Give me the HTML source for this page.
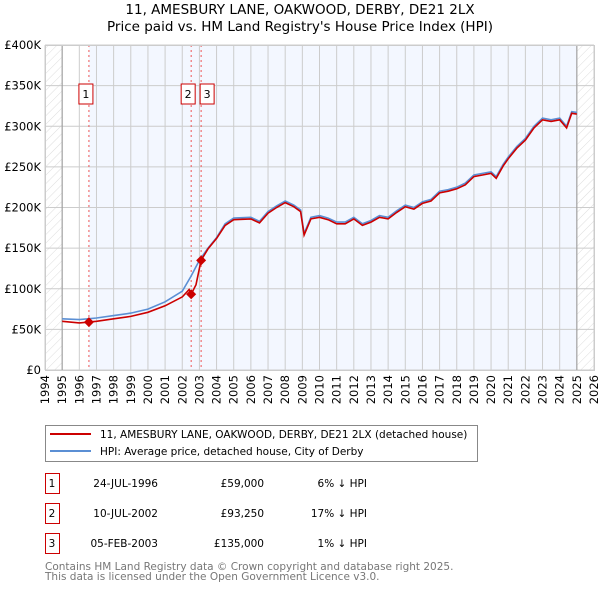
<!DOCTYPE html>
<html><head><meta charset="utf-8"><style>
body{margin:0;background:#fff;font-family:"DejaVu Sans","Liberation Sans",sans-serif;}
svg text{font-family:"DejaVu Sans","Liberation Sans",sans-serif;}
</style></head><body>
<svg id="c" width="600" height="590" xmlns="http://www.w3.org/2000/svg">
<defs><pattern id="hatch" width="6" height="6" patternUnits="userSpaceOnUse" patternTransform="rotate(45)"><line x1="0" y1="0" x2="0" y2="6" stroke="#ddd" stroke-width="1"/></pattern></defs>
<text x="300" y="14" text-anchor="middle" font-size="13.5">11, AMESBURY LANE, OAKWOOD, DERBY, DE21 2LX</text>
<text x="300" y="31" text-anchor="middle" font-size="13.5">Price paid vs. HM Land Registry's House Price Index (HPI)</text>
<g id="plot"></g>
<g>
<rect x="45.5" y="425.5" width="432" height="36" fill="#fff" stroke="#888"/>
<line x1="50" y1="434" x2="91" y2="434" stroke="#cc0000" stroke-width="2"/>
<text x="100" y="438" font-size="10.5">11, AMESBURY LANE, OAKWOOD, DERBY, DE21 2LX (detached house)</text>
<line x1="50" y1="451" x2="91" y2="451" stroke="#5b8fd4" stroke-width="2"/>
<text x="100" y="455" font-size="10.5">HPI: Average price, detached house, City of Derby</text>
</g>
<g id="table" font-size="10.5"></g>
<text x="45" y="570" font-size="10.5" fill="#777">Contains HM Land Registry data © Crown copyright and database right 2025.</text>
<text x="45" y="580" font-size="10.5" fill="#777">This data is licensed under the Open Government Licence v3.0.</text>
</svg>
<script>
const years=[1995,1996,1996.5,1997,1998,1999,2000,2001,2002,2002.5,2003,2003.5,2004,2004.5,2005,2006,2006.5,2007,2007.5,2008,2008.5,2008.9,2009.1,2009.5,2010,2010.5,2011,2011.5,2012,2012.5,2013,2013.5,2014,2014.5,2015,2015.5,2016,2016.5,2017,2017.5,2018,2018.5,2019,2019.5,2020,2020.3,2020.7,2021,2021.5,2022,2022.5,2023,2023.5,2024,2024.4,2024.7,2025];
const hpi=[63,62,63,64,67,70,75,84,97,115,135,150,163,180,187,188,183,195,202,208,203,197,168,188,190,187,182,182,188,180,184,190,188,196,203,200,207,210,220,222,225,230,240,242,244,238,253,262,275,285,300,310,308,310,300,318,317];
const redYears=[1995,1996,1996.56,1997,1998,1999,2000,2001,2002,2002.4,2002.52,2002.8,2003.1,2003.5,2004,2004.5,2005,2006,2006.5,2007,2007.5,2008,2008.5,2008.9,2009.1,2009.5,2010,2010.5,2011,2011.5,2012,2012.5,2013,2013.5,2014,2014.5,2015,2015.5,2016,2016.5,2017,2017.5,2018,2018.5,2019,2019.5,2020,2020.3,2020.7,2021,2021.5,2022,2022.5,2023,2023.5,2024,2024.4,2024.7,2025];
const red=[60,58,59,60,63,66,71,79,90,99,93.25,105,135,149,162,178,185,186,181,193,200,206,201,195,166,186,188,185,180,180,186,178,182,188,186,194,201,198,205,208,218,220,223,228,238,240,242,236,251,260,273,283,298,308,306,308,298,316,315];
const yTicks=[0,50,100,150,200,250,300,350,400];
const yLabels=["£0","£50K","£100K","£150K","£200K","£250K","£300K","£350K","£400K"];
const xTicks=[1994,1995,1996,1997,1998,1999,2000,2001,2002,2003,2004,2005,2006,2007,2008,2009,2010,2011,2012,2013,2014,2015,2016,2017,2018,2019,2020,2021,2022,2023,2024,2025,2026];
const saleYears=[1996.56,2002.52,2003.1];
const salePrices=[59,93.25,135];
const saleIds=["1","2","3"];
const saleDates=["24-JUL-1996","10-JUL-2002","05-FEB-2003"];
const salePriceLabels=["£59,000","£93,250","£135,000"];
const saleHpi=["6% ↓ HPI","17% ↓ HPI","1% ↓ HPI"];
const NS="http://www.w3.org/2000/svg";
const X0=45,X1=594,Y0=370,Y1=45;
const x=v=>X0+(v-1994)/(2026-1994)*(X1-X0);
const y=v=>Y0-v/400*(Y0-Y1);
const plot=document.getElementById('plot');
function mk(t,a,p){const e=document.createElementNS(NS,t);for(const k in a)e.setAttribute(k,a[k]);(p||plot).appendChild(e);return e;}
let e;
e=mk('rect',{x:X0,y:Y1,width:X1-X0,height:Y0-Y1,fill:'#fff'});
e=mk('rect',{x:x(saleYears[0]),y:Y1,width:x(2025)-x(saleYears[0]),height:Y0-Y1,fill:'#f3f7ff'});

e=mk('rect',{x:X0,y:Y1,width:x(1995)-X0,height:Y0-Y1,fill:'url(#hatch)'});

e=mk('rect',{x:x(2025),y:Y1,width:X1-x(2025),height:Y0-Y1,fill:'url(#hatch)'});

yTicks.forEach((v,i)=>{
 e=mk('line',{x1:X0,x2:X1,y1:y(v),y2:y(v),stroke:'#ccc'});
 
 e=mk('text',{x:X0-4,y:y(v)+4,'text-anchor':'end','font-size':11.5});e.textContent=yLabels[i];
 
});
xTicks.forEach(v=>{
 e=mk('line',{x1:x(v),x2:x(v),y1:Y1,y2:Y0,stroke:'#ccc'});
 
 e=mk('text',{x:0,y:0,'text-anchor':'end','font-size':11.5,transform:`translate(${x(v)+4},${Y0+5}) rotate(-90)`});e.textContent=v;
 
});
e=mk('line',{x1:x(1995),x2:x(1995),y1:Y1,y2:Y0,stroke:'#999'});
e=mk('line',{x1:x(2025),x2:x(2025),y1:Y1,y2:Y0,stroke:'#999'});
saleYears.forEach((v,i)=>{
 e=mk('line',{x1:x(v),x2:x(v),y1:Y1,y2:Y0,stroke:'#e55','stroke-dasharray':'2,3'});
 
});
const pts=(xs,ys)=>xs.map((v,i)=>x(v).toFixed(1)+','+y(ys[i]).toFixed(1)).join(' ');
e=mk('polyline',{points:pts(years,hpi),fill:'none',stroke:'#5b8fd4','stroke-width':1.6});

e=mk('polyline',{points:pts(redYears,red),fill:'none',stroke:'#cc0000','stroke-width':1.6});

saleYears.forEach((v,i)=>{
 const cx=x(v),cy=y(salePrices[i]);
 e=mk('path',{d:`M${cx},${cy-5}L${cx+5},${cy}L${cx},${cy+5}L${cx-5},${cy}Z`,fill:'#cc0000'});
 
});
const boxX=[x(saleYears[0])-10,x(saleYears[1])-10,x(saleYears[2])-1];
saleIds.forEach((s,i)=>{
 e=mk('rect',{x:boxX[i],y:84,width:14,height:20,fill:'#fff',stroke:'#cc0000'});
 
 e=mk('text',{x:boxX[i]+7,y:98,'text-anchor':'middle','font-size':11});e.textContent=s;
 
});
mk('rect',{x:X0+.5,y:Y1+.5,width:X1-X0,height:Y0-Y1,fill:'none',stroke:'#ccc'});
const tbl=document.getElementById('table');
const rowY=[483,513,543];
saleIds.forEach((s,i)=>{
 e=mk('rect',{x:45.5,y:rowY[i]-9.5,width:14,height:20,fill:'#fff',stroke:'#cc0000'},tbl);
 
 e=mk('text',{x:52,y:rowY[i]+4,'text-anchor':'middle'},tbl);e.textContent=s;
 
 e=mk('text',{x:158,y:rowY[i]+4,'text-anchor':'end'},tbl);e.textContent=saleDates[i];
 
 e=mk('text',{x:264,y:rowY[i]+4,'text-anchor':'end'},tbl);e.textContent=salePriceLabels[i];
 
 e=mk('text',{x:367,y:rowY[i]+4,'text-anchor':'end'},tbl);e.textContent=saleHpi[i];
 
});
</script>
</body></html>
